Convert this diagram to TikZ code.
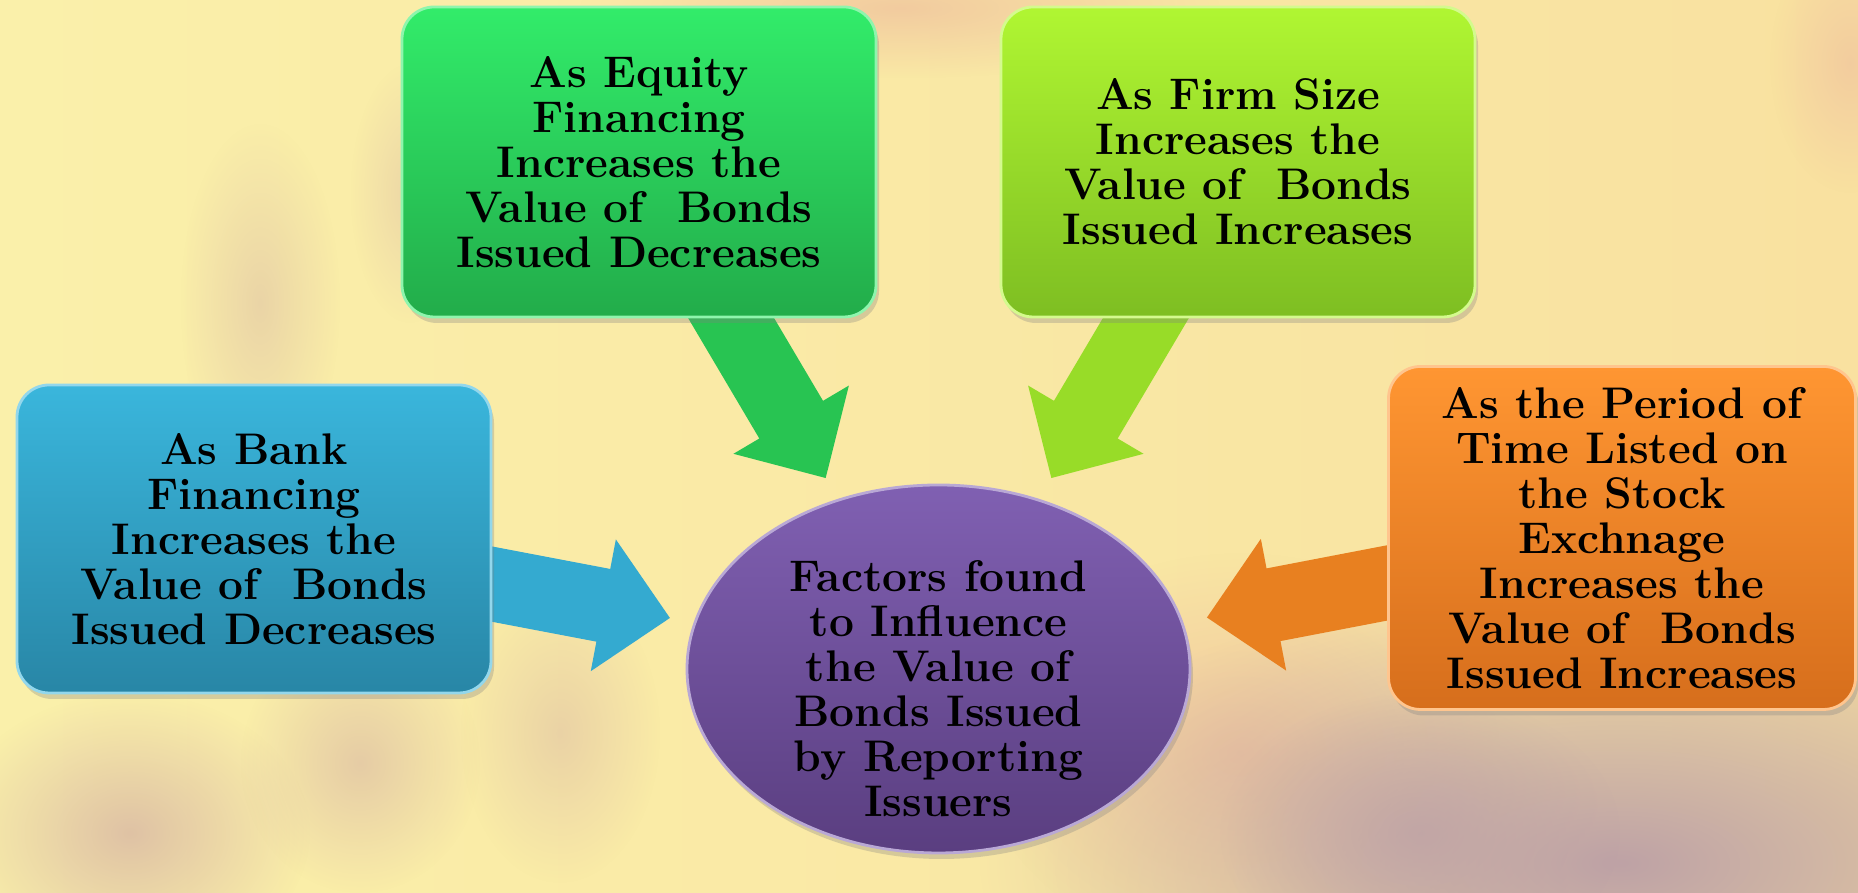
\documentclass[tikz,border=0pt]{standalone}
\usepackage{tikz}
\usetikzlibrary{shapes.geometric,arrows.meta,positioning,shadows,fadings}

\definecolor{bankTop}{HTML}{3AB6DC}
\definecolor{bankBot}{HTML}{2886A6}
\definecolor{equityTop}{HTML}{32EC6A}
\definecolor{equityBot}{HTML}{22AC4A}
\definecolor{firmTop}{HTML}{B0F632}
\definecolor{firmBot}{HTML}{7EBE22}
\definecolor{periodTop}{HTML}{FF9632}
\definecolor{periodBot}{HTML}{D66E1C}
\definecolor{hubTop}{HTML}{8060B2}
\definecolor{hubBot}{HTML}{5A3E80}
\definecolor{paleYellow}{HTML}{FAF0AA}
\definecolor{warmYellow}{HTML}{F9E1A0}
\definecolor{peach}{HTML}{F0C49E}
\definecolor{mauve}{HTML}{CDA4A2}
\definecolor{greyMauve}{HTML}{BEA2A6}

\tikzfading[name=softblob, inner color=transparent!0, outer color=transparent!100]

\pgfdeclarelayer{backdrop}
\pgfdeclarelayer{arrowlayer}
\pgfsetlayers{backdrop,arrowlayer,main}

\begin{document}
\begin{tikzpicture}[
    factorbox/.style={rounded corners=0.32cm, align=center, inner sep=0pt,
        font=\bfseries\fontsize{12.6}{12.8}\selectfont, line width=0.8pt,
        drop shadow={shadow xshift=0.03cm, shadow yshift=-0.06cm, opacity=0.3}},
    hubnode/.style={ellipse, inner sep=0pt, minimum width=5.03cm, minimum height=3.68cm,
        top color=hubTop, bottom color=hubBot, draw=hubTop!55!white, line width=0.8pt,
        drop shadow={shadow xshift=0.03cm, shadow yshift=-0.06cm, opacity=0.3}},
    push/.style={line width=0.74cm, -{Triangle[length=6.8mm 0 0, width=13mm 0 0]},
        shorten <=-0.3cm, shorten >=0.24cm},
    blob/.style={path fading=softblob}
]
    \useasboundingbox (0,0) rectangle (18.58,8.93);

    % --- fond flou ---
    \begin{pgfonlayer}{backdrop}
    \fill[left color=paleYellow, right color=warmYellow] (0,0) rectangle (18.58,8.93);
    \fill[blob, peach, opacity=0.8] (9.0,8.85) ellipse (3.2 and 0.7);
    \fill[blob, peach, opacity=0.7] (18.5,8.3) ellipse (0.8 and 1.3);
    \fill[blob, mauve, opacity=0.35] (2.6,5.9) ellipse (0.8 and 1.8);
    \fill[blob, mauve, opacity=0.3] (4.1,7.0) ellipse (0.6 and 1.3);
    \fill[blob, mauve, opacity=0.6] (1.3,0.6) ellipse (1.8 and 1.4);
    \fill[blob, mauve, opacity=0.45] (3.6,1.3) ellipse (1.2 and 1.3);
    \fill[blob, mauve, opacity=0.35] (5.6,1.6) ellipse (1.0 and 1.5);
    \fill[blob, peach, opacity=0.9] (12.4,1.4) ellipse (2.6 and 2.0);
    \fill[blob, greyMauve] (16.2,0.3) ellipse (6.4 and 2.8);
    \fill[blob, greyMauve, opacity=0.8] (14.2,0.6) ellipse (2.0 and 1.4);
    \end{pgfonlayer}

    % --- Facteurs ---
    \node[factorbox, minimum width=4.74cm, minimum height=3.08cm, top color=bankTop,
          bottom color=bankBot, draw=bankTop!55!white] (bank) at (2.54,3.54) {
        As Bank\\
        Financing\\
        Increases the\\
        Value of \ Bonds\\
        Issued Decreases
    };

    \node[factorbox, minimum width=4.74cm, minimum height=3.10cm, top color=equityTop,
          bottom color=equityBot, draw=equityTop!55!white] (equity) at (6.39,7.31) {
        As Equity\\
        Financing\\
        Increases the\\
        Value of \ Bonds\\
        Issued Decreases
    };

    \node[factorbox, minimum width=4.74cm, minimum height=3.10cm, top color=firmTop,
          bottom color=firmBot, draw=firmTop!55!white] (firm) at (12.38,7.31) {
        As Firm Size\\
        Increases the\\
        Value of \ Bonds\\
        Issued Increases
    };

    \node[factorbox, minimum width=4.67cm, minimum height=3.43cm, top color=periodTop,
          bottom color=periodBot, draw=periodTop!55!white] (period) at (16.22,3.55) {
        As the Period of\\
        Time Listed on\\
        the Stock\\
        Exchnage\\
        Increases the\\
        Value of \ Bonds\\
        Issued Increases
    };

    % --- Centre ---
    \node[hubnode, label={[yshift=-0.2cm, align=center,
          font=\bfseries\fontsize{12.6}{12.8}\selectfont]center:Factors found\\
        to Influence\\
        the Value of\\
        Bonds Issued\\
        by Reporting\\
        Issuers}] (hub) at (9.385,2.24) {};

    % --- Fleches ---
    \begin{pgfonlayer}{arrowlayer}
        \draw[push, draw={rgb,255:red,52;green,170;blue,208}] (bank) -- (hub);
        \draw[push, draw={rgb,255:red,40;green,196;blue,82}] (equity) -- (hub);
        \draw[push, draw={rgb,255:red,152;green,220;blue,40}] (firm) -- (hub);
        \draw[push, draw={rgb,255:red,232;green,128;blue,32}] (period) -- (hub);
    \end{pgfonlayer}

\end{tikzpicture}
\end{document}
